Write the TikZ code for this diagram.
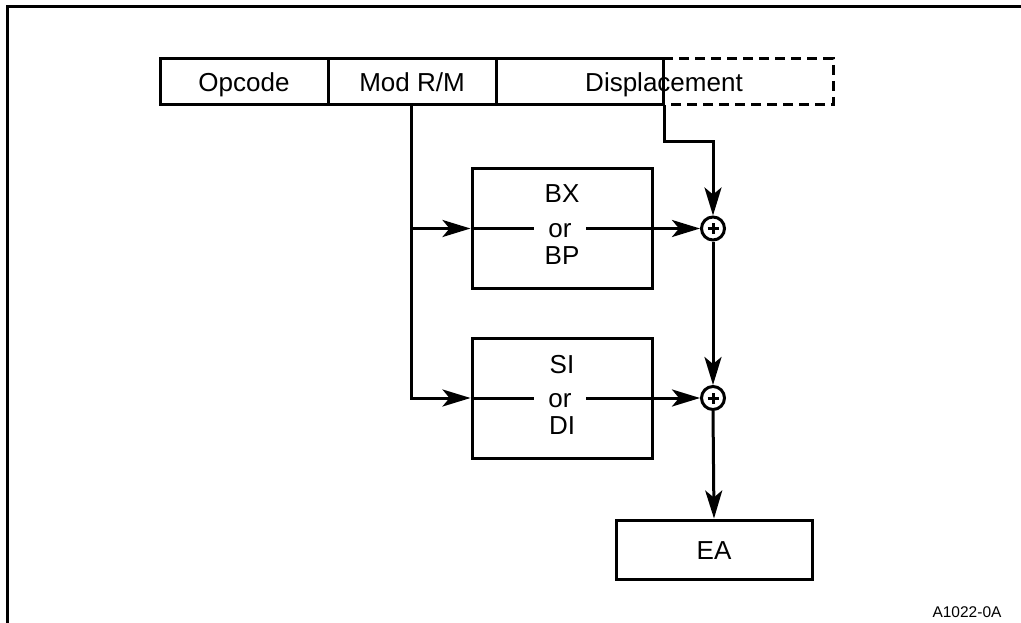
\documentclass[tikz,border=0pt]{standalone}
\usepackage{fontspec}
\setmainfont{Liberation Sans}
\usetikzlibrary{arrows.meta,calc}
\begin{document}
\begin{tikzpicture}[x=1pt,y=-1pt,line width=3pt,
  txt/.style={font=\fontsize{26}{31}\selectfont},
  box/.style={draw,rectangle,inner sep=0pt,txt,text height=19pt,text depth=0pt},
  lbl/.style={inner sep=0pt,txt,text height=19pt,text depth=0pt},
  reg/.style={inner sep=0pt,txt,anchor=base},
  gap/.style={reg,fill=white,inner xsep=14pt,inner ysep=2pt},
  arr/.style={-{Stealth[length=28pt,width=17pt,inset=7pt]}},
  sumnode/.style={draw,circle,minimum size=23pt,inner sep=0pt,
    path picture={\draw[line width=3pt]
      ([xshift=-5.5pt]path picture bounding box.center) -- ([xshift=5.5pt]path picture bounding box.center)
      ([yshift=-5.5pt]path picture bounding box.center) -- ([yshift=5.5pt]path picture bounding box.center);}},
  dashedbox/.style={dash pattern=on 10pt off 6pt}
]
\useasboundingbox (0,0) rectangle (1021,623);
% frame
\draw (7,623) -- (7,7) -- (1021,7);
% instruction fields
\node[box,minimum width=168pt,minimum height=46pt] (op) at (244,82) {Opcode};
\node[box,minimum width=168pt,minimum height=46pt] (mod) at (412,82) {Mod R/M};
\node[draw,rectangle,minimum width=167pt,minimum height=46pt] (disp) at (579.5,82) {};
\draw[dashedbox] (663,59) -- (833,59) -- (833,105) -- (663,105);
\node[lbl] (disptxt) at (664,82) {Displacement};
% registers
\node[draw,rectangle,minimum width=180pt,minimum height=119pt] (bx) at (562,228.5) {};
\node[draw,rectangle,minimum width=180pt,minimum height=120pt] (si) at (562,398) {};
\node[sumnode] (p1) at (713,228.5) {};
\node[sumnode] (p2) at (713,398) {};
\node[box,minimum width=196pt,minimum height=59pt] (ea) at (714,549.5) {EA};
% connectors
\coordinate (m0) at (411,105);
\coordinate (m1) at (411,228.5);
\coordinate (d0) at (664,105);
\coordinate (d1) at (664,142);
\draw[arr] (m0) |- (si.west);
\draw[arr] (m1) -- (bx.west);
\draw[arr] (bx.west) -- (p1.west);
\draw[arr] (si.west) -- (p2.west);
\draw[arr] (d0) -- (d1) -| (p1.north);
\draw[arr] (p1.south) -- (p2.north);
\draw[arr] (p2.south) -- (ea.north);
% register labels
\node[reg] (bxa) at (562,203) {BX};
\node[gap] (bxo) at (560,237) {or};
\node[reg] (bxb) at (562,264) {BP};
\node[reg] (sia) at (562,373) {SI};
\node[gap] (sio) at (560,407) {or};
\node[reg] (sib) at (562,434) {DI};
\node[font=\fontsize{15.5}{18}\selectfont,inner sep=0pt,anchor=base] (code) at (967,617.5) {A1022-0A};
\end{tikzpicture}
\end{document}
